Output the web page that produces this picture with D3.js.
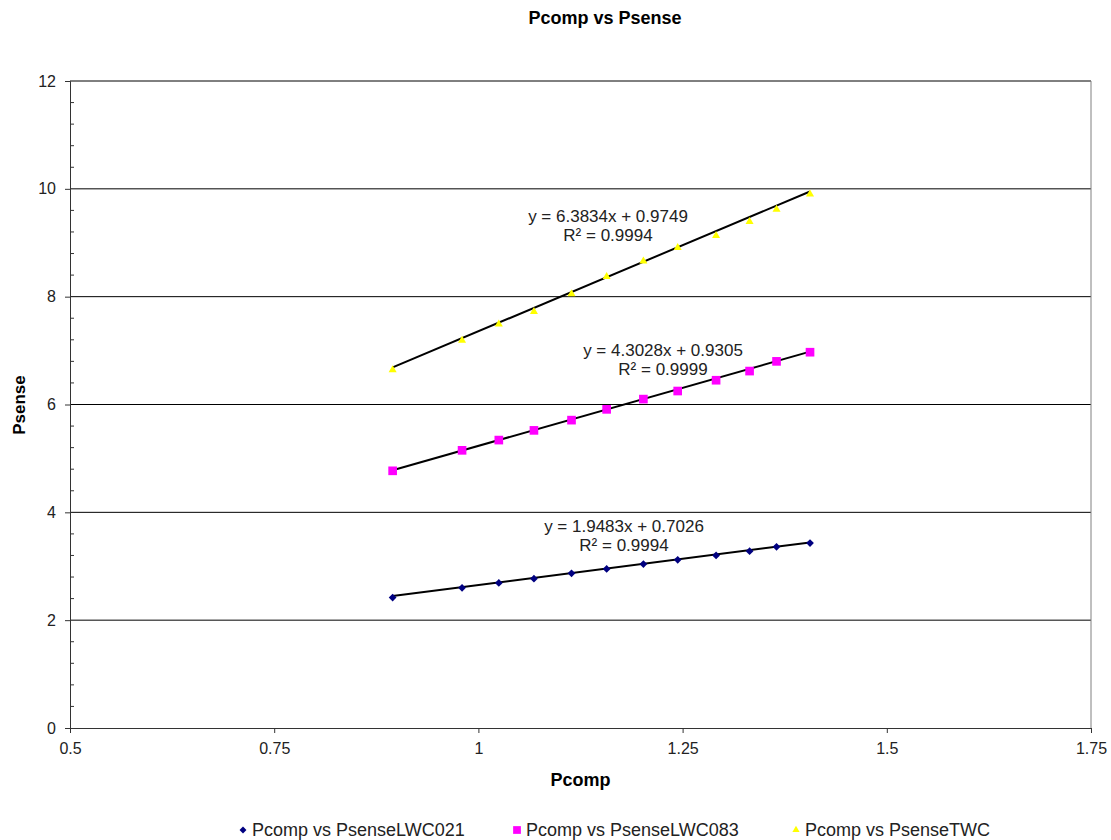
<!DOCTYPE html>
<html>
<head>
<meta charset="utf-8">
<script src="https://cdn.jsdelivr.net/npm/d3@7"></script>
<style>
  body { margin: 0; background: #fff; }
  svg { display: block; font-family: "Liberation Sans", Arial, sans-serif; }
</style>
</head>
<body>
<svg width="1111" height="840"></svg>
<script>
// values
var pcomp = [0.895, 0.980, 1.025, 1.068, 1.114, 1.157, 1.202, 1.244, 1.291, 1.332, 1.365, 1.406];
var psenseLWC021 = [2.42, 2.60, 2.69, 2.77, 2.87, 2.95, 3.04, 3.12, 3.20, 3.28, 3.36, 3.43];
var psenseLWC083 = [4.77, 5.15, 5.34, 5.52, 5.71, 5.91, 6.10, 6.25, 6.45, 6.62, 6.80, 6.97];
var psenseTWC = [6.64, 7.19, 7.49, 7.72, 8.05, 8.37, 8.66, 8.91, 9.13, 9.39, 9.62, 9.90];

var seriesNames = ["Pcomp vs PsenseLWC021", "Pcomp vs PsenseLWC083", "Pcomp vs PsenseTWC"];
var slopes = [1.9483, 4.3028, 6.3834];
var intercepts = [0.7026, 0.9305, 0.9749];
var rSquared = ["0.9994", "0.9999", "0.9994"];

var xTicks = [0.5, 0.75, 1, 1.25, 1.5, 1.75];
var yTicks = [0, 2, 4, 6, 8, 10, 12];

function drawChart () {
    var svg = d3.select("svg"),
        margin = {top: 81, right: 20, bottom: 112, left: 70},
        width = +svg.attr("width") - margin.left - margin.right,
        height = +svg.attr("height") - margin.top - margin.bottom,
        g = svg.append("g").attr("transform", "translate(" + margin.left + "," + margin.top + ")");

    var x = d3.scaleLinear().domain([0.5, 1.75]).range([0, width]);
    var y = d3.scaleLinear().domain([0, 12]).range([height, 0]);

    var colors = ["#000080", "#ff00ff", "#ffff00"];
    // diamond = square turned 45 degrees, like the Excel marker
    var symbols = [d3.symbolSquare, d3.symbolSquare, d3.symbolTriangle];
    var rotations = [45, 0, 0];
    var sizes = [30, 75, 28];
    var allY = [psenseLWC021, psenseLWC083, psenseTWC];

    var series = seriesNames.map(function (name, i) {
        return {
            name: name,
            points: pcomp.map(function (p, j) { return {x: p, y: allY[i][j]}; }),
            slope: slopes[i],
            intercept: intercepts[i],
            r2: rSquared[i]
        };
    });

    // gridlines
    g.append("g")
        .selectAll("line")
        .data(yTicks.filter(function (d) { return d > 0; }))
        .enter().append("line")
            .attr("x1", 0)
            .attr("x2", width)
            .attr("y1", function (d) { return y(d); })
            .attr("y2", function (d) { return y(d); })
            .attr("stroke", "#000")
            .attr("stroke-width", 1);

    // right border of plot area
    g.append("line")
        .attr("x1", width).attr("x2", width)
        .attr("y1", 0).attr("y2", height)
        .attr("stroke", "#808080");

    // minor ticks on y axis, pointing in
    g.append("g")
        .selectAll("line")
        .data(d3.range(0, 12.01, 0.4).filter(function (d) { return Math.abs(d / 2 - Math.round(d / 2)) > 0.01; }))
        .enter().append("line")
            .attr("x1", 0).attr("x2", 4)
            .attr("y1", function (d) { return y(d); })
            .attr("y2", function (d) { return y(d); })
            .attr("stroke", "#333");

    var yAxis = g.append("g")
        .call(d3.axisLeft(y).tickValues(yTicks).tickSize(5).tickPadding(9).tickFormat(d3.format("d")));

    var xAxis = g.append("g")
        .attr("transform", "translate(0," + height + ")")
        .call(d3.axisBottom(x).tickValues(xTicks).tickSize(5).tickPadding(10).tickFormat(function (d) { return d.toString(); }));

    [xAxis, yAxis].forEach(function (a) {
        a.select(".domain").attr("stroke", "#333");
        a.selectAll(".tick line").attr("stroke", "#333");
        a.selectAll(".tick text")
            .attr("fill", "#222")
            .style("font-size", "16px")
            .style("font-family", "'Liberation Sans', Arial, sans-serif");
    });

    // trendlines
    var xExtent = d3.extent(pcomp);
    g.selectAll(".trend")
        .data(series)
        .enter().append("line")
            .attr("class", "trend")
            .attr("x1", x(xExtent[0]))
            .attr("x2", x(xExtent[1]))
            .attr("y1", function (d) { return y(d.slope * xExtent[0] + d.intercept); })
            .attr("y2", function (d) { return y(d.slope * xExtent[1] + d.intercept); })
            .attr("stroke", "#000")
            .attr("stroke-width", 2);

    // markers
    g.selectAll(".serie")
        .data(series)
        .enter().append("g")
            .attr("class", "serie")
            .attr("fill", function (d, i) { return colors[i]; })
        .each(function (d, i) {
            d3.select(this).selectAll("path")
                .data(d.points)
                .enter().append("path")
                    .attr("d", d3.symbol().type(symbols[i]).size(sizes[i]))
                    .attr("transform", function (p) {
                        return "translate(" + x(p.x) + "," + y(p.y) + ") rotate(" + rotations[i] + ")";
                    });
        });

    // trendline equations (placed where the chart had them)
    var labelPos = [[624 - margin.left, 532 - margin.top], [663 - margin.left, 356 - margin.top], [608 - margin.left, 222 - margin.top]];
    var labels = g.selectAll(".eq")
        .data(series)
        .enter().append("text")
            .attr("class", "eq")
            .attr("text-anchor", "middle")
            .attr("fill", "#222")
            .style("font-size", "17px")
            .attr("transform", function (d, i) { return "translate(" + labelPos[i][0] + "," + labelPos[i][1] + ")"; });
    labels.append("tspan")
        .attr("x", 0)
        .text(function (d) { return "y = " + d.slope + "x + " + d.intercept; });
    labels.append("tspan")
        .attr("x", 0)
        .attr("dy", 19)
        .text(function (d) { return "R² = " + d.r2; });

    // titles
    svg.append("text")
        .attr("x", 605).attr("y", 24)
        .attr("text-anchor", "middle")
        .style("font-size", "18px").style("font-weight", "bold")
        .text("Pcomp vs Psense");

    svg.append("text")
        .attr("x", margin.left + x(1.125)).attr("y", 786)
        .attr("text-anchor", "middle")
        .style("font-size", "18px").style("font-weight", "bold")
        .text("Pcomp");

    svg.append("text")
        .attr("transform", "translate(25,405) rotate(-90)")
        .attr("text-anchor", "middle")
        .style("font-size", "17px").style("font-weight", "bold")
        .text("Psense");

    // legend
    var legendX = [243, 517, 796];
    var legend = svg.selectAll(".legend")
        .data(series)
        .enter().append("g")
            .attr("class", "legend")
            .attr("transform", function (d, i) { return "translate(" + legendX[i] + ",830)"; });

    legend.append("path")
        .attr("d", function (d, i) { return d3.symbol().type(symbols[i]).size(sizes[i] * 0.8)(); })
        .attr("transform", function (d, i) { return "rotate(" + rotations[i] + ")"; })
        .attr("fill", function (d, i) { return colors[i]; });

    legend.append("text")
        .attr("x", 9)
        .attr("y", 6)
        .attr("fill", "#222")
        .style("font-size", "18px")
        .text(function (d) { return d.name; });
}

drawChart();
</script>
</body>
</html>
